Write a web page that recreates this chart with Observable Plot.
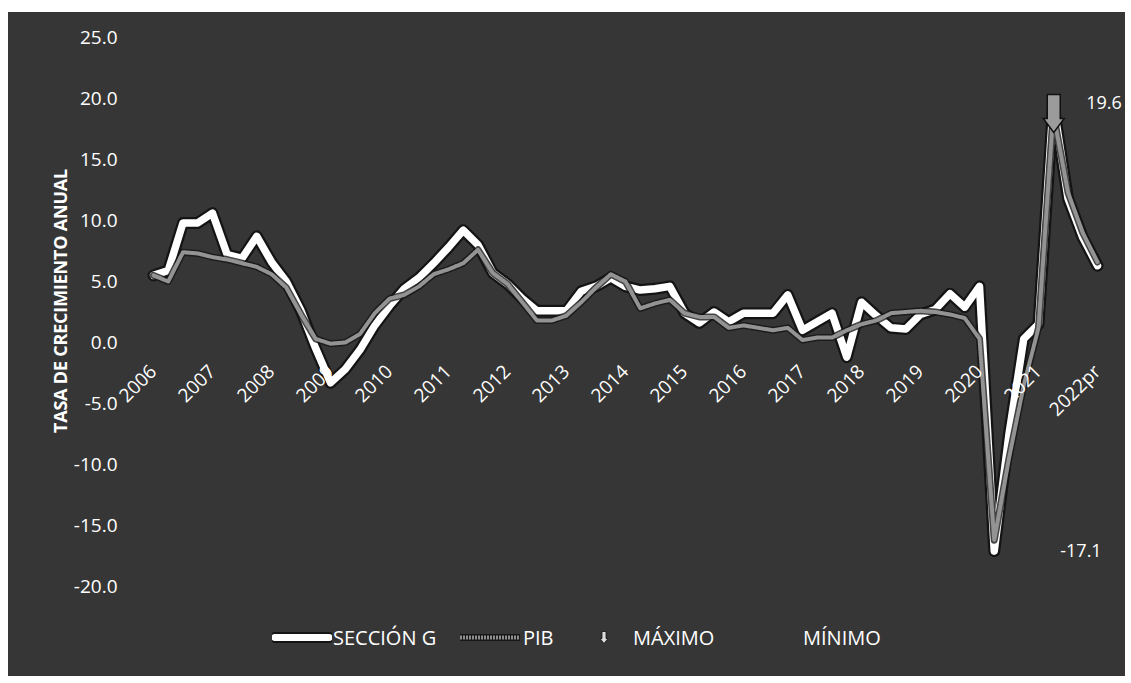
<!DOCTYPE html>
<html>
<head>
<meta charset="utf-8">
<script src="https://cdn.jsdelivr.net/npm/d3@7"></script>
<script src="https://cdn.jsdelivr.net/npm/@observablehq/plot@0.6"></script>
<style>
  html, body { margin: 0; padding: 0; background: #ffffff; }
  #panel { position: absolute; left: 8px; top: 12px; width: 1117px; height: 664px; background: #363636; overflow: hidden; font-family: "Open Sans", sans-serif; color: #fff; }
  #chart { position: absolute; left: 0; top: 0; }
  #ytitle { position: absolute; left: 52px; top: 289px; transform: translate(-50%, -50%) rotate(-90deg); font-weight: 700; font-size: 18px; white-space: nowrap; letter-spacing: -0.2px; }
  .lg { position: absolute; top: 625px; transform: translateY(-50%); display: flex; align-items: center; font-size: 20px; white-space: nowrap; }
</style>
</head>
<body>
<div id="panel">
  <div id="chart"></div>
  <div id="ytitle">TASA DE CRECIMIENTO ANUAL</div>
  <div class="lg" style="left:264px"><svg width="60" height="12"><line x1="3" y1="6" x2="57" y2="6" stroke="#141414" stroke-width="11" stroke-linecap="round"/><line x1="3" y1="6" x2="57" y2="6" stroke="#fff" stroke-width="7" stroke-linecap="round"/></svg><span style="margin-left:1px">SECCIÓN G</span></div>
  <div class="lg" style="left:450px"><svg width="64" height="12"><line x1="2" y1="6" x2="62" y2="6" stroke="#161616" stroke-width="7"/><line x1="2" y1="6" x2="62" y2="6" stroke="#8e8e8e" stroke-width="4" stroke-dasharray="2,1"/></svg><span style="margin-left:1px">PIB</span></div>
  <div class="lg" style="left:590px"><svg width="12" height="14"><path d="M4,1 L8,1 L8,8 L10,8 L6,13 L2,8 L4,8 Z" fill="#ddd" stroke="#111" stroke-width="0.8"/></svg><span style="margin-left:23px">MÁXIMO</span></div>
  <div class="lg" style="left:795px"><span>MÍNIMO</span></div>
</div>
<script>
// Quarterly annual growth rates, 2006-T1 ... 2022-T1
const yearLabels = ["2006","2007","2008","2009","2010","2011","2012","2013","2014","2015","2016","2017","2018","2019","2020","2021","2022pr"];
const seccionG = [
  5.5, 5.9, 9.8, 9.8,     // 2006
  10.6, 7.2, 6.9, 8.7,    // 2007
  6.6, 5.0, 2.6, -0.5,    // 2008
  -3.3, -2.2, -0.6, 1.4,  // 2009
  3.0, 4.4, 5.3, 6.5,     // 2010
  7.8, 9.2, 8.0, 5.7,     // 2011
  4.8, 3.6, 2.6, 2.6,     // 2012
  2.6, 4.2, 4.6, 5.3,     // 2013
  4.6, 4.3, 4.4, 4.6,     // 2014
  2.4, 1.6, 2.5, 1.7,     // 2015
  2.4, 2.4, 2.4, 3.9,     // 2016
  1.0, 1.7, 2.4, -1.2,    // 2017
  3.3, 2.2, 1.2, 1.1,     // 2018
  2.3, 2.7, 4.0, 2.9,     // 2019
  4.6, -17.1, -7.5, 0.3,  // 2020
  1.5, 19.6, 11.8, 8.6,   // 2021
  6.3                     // 2022pr
];
const pib = [
  5.5, 5.0, 7.4, 7.3,
  7.0, 6.8, 6.5, 6.2,
  5.6, 4.5, 2.3, 0.3,
  -0.1, 0.0, 0.7, 2.4,
  3.6, 3.9, 4.6, 5.6,
  6.0, 6.5, 7.6, 5.7,
  4.8, 3.3, 1.8, 1.8,
  2.2, 3.3, 4.5, 5.6,
  5.0, 2.8, 3.2, 3.5,
  2.4, 2.1, 2.1, 1.2,
  1.4, 1.2, 1.0, 1.2,
  0.2, 0.4, 0.4, 1.0,
  1.5, 1.8, 2.4, 2.5,
  2.6, 2.5, 2.3, 2.0,
  0.3, -16.2, -9.5, -3.5,
  1.2, 18.8, 12.3, 9.0,
  6.6
];
const yTicks = [-20, -15, -10, -5, 0, 5, 10, 15, 20, 25];
const axisCross = 0;

const n = seccionG.length;
const yearTicks = yearLabels.map((label, k) => ({i: k * 4, label}));
const maxIdx = d3.maxIndex(seccionG);
const minIdx = d3.minIndex(seccionG);

const arrowDown = {
  draw(ctx) {
    ctx.moveTo(-6, -9); ctx.lineTo(7, -9); ctx.lineTo(7, 15); ctx.lineTo(11, 15);
    ctx.lineTo(0.5, 29); ctx.lineTo(-10, 15); ctx.lineTo(-6, 15); ctx.closePath();
  }
};

const X = (d, i) => i;
const V = d => d;

const chart = Plot.plot({
  width: 1117,
  height: 605,
  marginLeft: 145,
  marginRight: 28,
  marginTop: 25,
  marginBottom: 31,
  style: {background: "transparent", color: "#fff", fontFamily: "Open Sans, sans-serif", fontSize: "19px", overflow: "visible"},
  x: {domain: [0, n - 1], axis: null},
  y: {domain: [-20, 25], axis: null},
  marks: [
    Plot.axisY({ticks: yTicks, tickFormat: d => d.toFixed(1), tickSize: 0, tickPadding: 36, label: null, fontSize: 19, fill: "#fff"}),
    Plot.line(seccionG, {x: X, y: V, stroke: "#141414", strokeWidth: 12, strokeLinejoin: "round", strokeLinecap: "round"}),
    Plot.line(seccionG, {x: X, y: V, stroke: "#ffffff", strokeWidth: 7.5, strokeLinejoin: "round", strokeLinecap: "round"}),
    Plot.line(pib, {x: X, y: V, stroke: "#161616", strokeWidth: 7, strokeLinejoin: "round", strokeOpacity: 0.8}),
    Plot.line(pib, {x: X, y: V, stroke: "#939393", strokeWidth: 4, strokeLinejoin: "round", strokeDasharray: "2,1"}),
    Plot.text(yearTicks, {x: "i", y: () => axisCross, text: "label", rotate: -45, textAnchor: "end", dx: 0, dy: 26, fill: "#fff", fontSize: 19}),
    Plot.dot([maxIdx], {x: d => d, y: d => seccionG[d], symbol: arrowDown, fill: "#9b9b9b", stroke: "#111", strokeWidth: 1.5, r: 10}),
    Plot.text([maxIdx], {x: d => d, y: d => seccionG[d], text: d => seccionG[d].toFixed(1), textAnchor: "start", dx: 33, fill: "#fff", fontSize: 18}),
    Plot.text([minIdx], {x: d => d, y: d => seccionG[d], text: d => seccionG[d].toFixed(1), textAnchor: "start", dx: 66, fill: "#fff", fontSize: 18})
  ]
});
document.getElementById("chart").appendChild(chart);
</script>
</body>
</html>
